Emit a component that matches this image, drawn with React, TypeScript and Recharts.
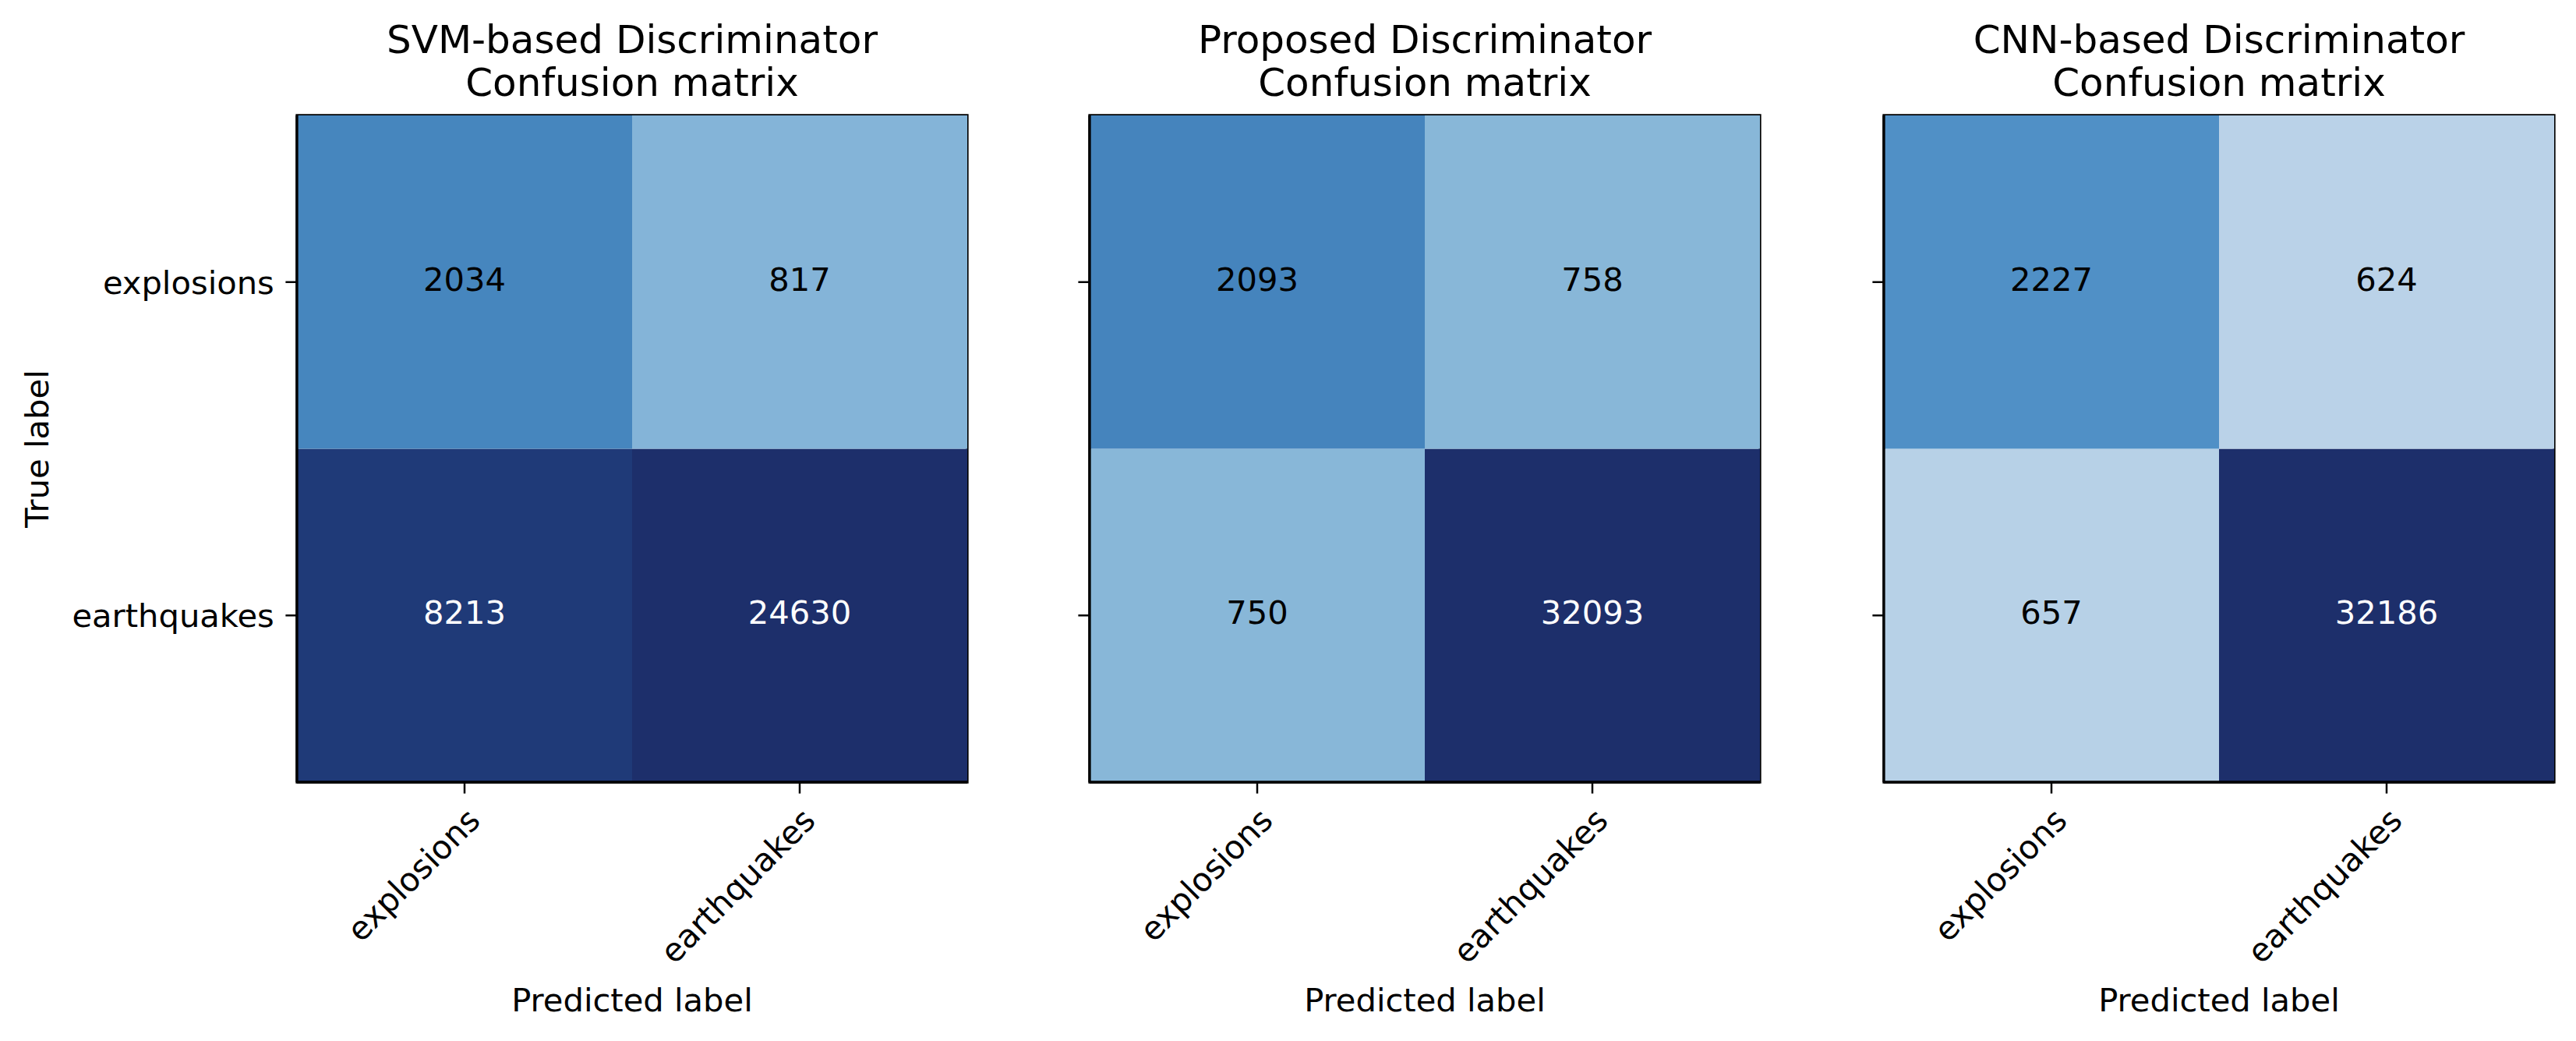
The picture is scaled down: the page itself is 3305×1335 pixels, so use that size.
import React from 'react';
import { BarChart, Bar, XAxis, YAxis, Cell, LabelList, ReferenceArea } from 'recharts';

// matrix axes
const predictedLabels = ['explosions', 'earthquakes'];
const trueLabels = ['explosions', 'earthquakes'];

const titles = ['SVM-based Discriminator', 'Proposed Discriminator', 'CNN-based Discriminator'];
const subTitle = 'Confusion matrix';

// rows = true label, columns = predicted label
const svmCounts = [[2034, 817], [8213, 24630]];
const proposedCounts = [[2093, 758], [750, 32093]];
const cnnCounts = [[2227, 624], [657, 32186]];

// cell colours
const svmColors = [['#4686be', '#84b4d8'], ['#1f3a78', '#1d2f6b']];
const proposedColors = [['#4584bd', '#88b7d8'], ['#88b7d8', '#1d2f6b']];
const cnnColors = [['#5090c6', '#bad2e8'], ['#b7d1e7', '#1d2f6b']];

const FONT = '"DejaVu Sans", sans-serif';
const TICK_FS = 41.67;
const TITLE_FS = 50;
const TICK_LEN = 14.6;
const LINE_W = 3.3;

const PLOT_TOP = 148;
const PLOT_BOTTOM = 1003;
const PLOT_W = 860;
const Y_AXIS_W = 381;
const CHART_H = 1335;
const panelLefts = [381, 1398, 2417];

// every matrix row occupies one unit on the value axis
const ROW_SPAN = 1;

const isDark = (hex: string) => {
  const r = parseInt(hex.slice(1, 3), 16);
  const g = parseInt(hex.slice(3, 5), 16);
  const b = parseInt(hex.slice(5, 7), 16);
  return 0.299 * r + 0.587 * g + 0.114 * b < 110;
};

const buildRows = (counts: number[][]) =>
  predictedLabels.map((pred, j) => ({
    pred,
    top: ROW_SPAN,
    bottom: ROW_SPAN,
    topCount: counts[0][j],
    bottomCount: counts[1][j],
  }));

const rowTicks = trueLabels.map((_, i) => (trueLabels.length - i - 0.5) * ROW_SPAN);

const RotatedTick = ({ x, y, payload }: any) => (
  <text
    x={x}
    y={y}
    dy="0.76em"
    textAnchor="end"
    transform={`rotate(-45 ${x} ${y})`}
    fontSize={TICK_FS}
    fontFamily={FONT}
    fill="#000"
  >
    {payload.value}
  </text>
);

const cellLabel = (colors: string[]) => (props: any) => {
  const { x, y, width, height, value, index } = props;
  const fill = isDark(colors[index]) ? '#ffffff' : '#000000';
  return (
    <text
      x={x + width / 2}
      y={y + height / 2}
      dy="0.26em"
      textAnchor="middle"
      fontSize={TICK_FS}
      fontFamily={FONT}
      fill={fill}
    >
      {value}
    </text>
  );
};

interface PanelProps {
  title: string;
  counts: number[][];
  colors: string[][];
  left: number;
  showYLabels: boolean;
}

const MatrixPanel: React.FC<PanelProps> = ({ title, counts, colors, left, showYLabels }) => {
  const data = buildRows(counts);
  const width = Y_AXIS_W + PLOT_W + 20;
  return (
    <div style={{ position: 'absolute', left: left - Y_AXIS_W, top: 0, width, height: CHART_H }}>
      <BarChart
        width={width}
        height={CHART_H}
        data={data}
        barCategoryGap={0}
        barGap={0}
        margin={{ top: PLOT_TOP, right: 20, bottom: 0, left: 0 }}
      >
        <XAxis
          dataKey="pred"
          type="category"
          height={CHART_H - PLOT_BOTTOM}
          axisLine={{ stroke: '#000', strokeWidth: LINE_W }}
          tickLine={{ stroke: '#000', strokeWidth: 2.5 }}
          tickSize={TICK_LEN}
          tickMargin={TICK_LEN}
          tick={<RotatedTick />}
          interval={0}
          label={{
            content: ({ viewBox }: any) => (
              <text
                x={viewBox.x + viewBox.width / 2}
                y={viewBox.y + viewBox.height - 38}
                textAnchor="middle"
                fontSize={TICK_FS}
                fontFamily={FONT}
                fill="#000"
              >
                Predicted label
              </text>
            ),
          }}
        />
        <YAxis
          type="number"
          domain={[0, trueLabels.length * ROW_SPAN]}
          ticks={rowTicks}
          width={Y_AXIS_W}
          axisLine={{ stroke: '#000', strokeWidth: LINE_W }}
          tickLine={{ stroke: '#000', strokeWidth: 2.5 }}
          tickSize={TICK_LEN}
          tickMargin={TICK_LEN}
          tick={{ fontSize: TICK_FS, fontFamily: FONT, fill: '#000' }}
          tickFormatter={(v: number) => (showYLabels ? trueLabels[rowTicks.indexOf(v)] : '')}
          label={
            showYLabels
              ? {
                  content: ({ viewBox }: any) => {
                    const lx = viewBox.x + 62;
                    const ly = viewBox.y + viewBox.height / 2;
                    return (
                      <text
                        x={lx}
                        y={ly}
                        textAnchor="middle"
                        transform={`rotate(-90 ${lx} ${ly})`}
                        fontSize={TICK_FS}
                        fontFamily={FONT}
                        fill="#000"
                      >
                        True label
                      </text>
                    );
                  },
                }
              : undefined
          }
        />
        <Bar dataKey="bottom" stackId="m" isAnimationActive={false}>
          {data.map((_, j) => (
            <Cell key={`b-${j}`} fill={colors[1][j]} />
          ))}
          <LabelList dataKey="bottomCount" content={cellLabel(colors[1])} />
        </Bar>
        <Bar dataKey="top" stackId="m" isAnimationActive={false}>
          {data.map((_, j) => (
            <Cell key={`t-${j}`} fill={colors[0][j]} />
          ))}
          <LabelList dataKey="topCount" content={cellLabel(colors[0])} />
        </Bar>
        <ReferenceArea
          x1={predictedLabels[0]}
          x2={predictedLabels[predictedLabels.length - 1]}
          y1={0}
          y2={trueLabels.length * ROW_SPAN}
          fill="none"
          fillOpacity={0}
          stroke="#000"
          strokeWidth={LINE_W}
          ifOverflow="visible"
          label={{
            content: ({ viewBox }: any) => {
              const cx = viewBox.x + viewBox.width / 2;
              const top = viewBox.y;
              return (
                <text textAnchor="middle" fontSize={TITLE_FS} fontFamily={FONT} fill="#000">
                  <tspan x={cx} y={top - 80}>{title}</tspan>
                  <tspan x={cx} y={top - 25}>{subTitle}</tspan>
                </text>
              );
            },
          }}
        />
      </BarChart>
    </div>
  );
};

export default function App() {
  const panels = [
    { counts: svmCounts, colors: svmColors },
    { counts: proposedCounts, colors: proposedColors },
    { counts: cnnCounts, colors: cnnColors },
  ];
  return (
    <div
      style={{
        position: 'fixed',
        left: 0,
        top: 0,
        width: 3305,
        height: CHART_H,
        background: '#fff',
        fontFamily: FONT,
      }}
    >
      {panels.map((p, i) => (
        <MatrixPanel
          key={titles[i]}
          title={titles[i]}
          counts={p.counts}
          colors={p.colors}
          left={panelLefts[i]}
          showYLabels={i === 0}
        />
      ))}
    </div>
  );
}
